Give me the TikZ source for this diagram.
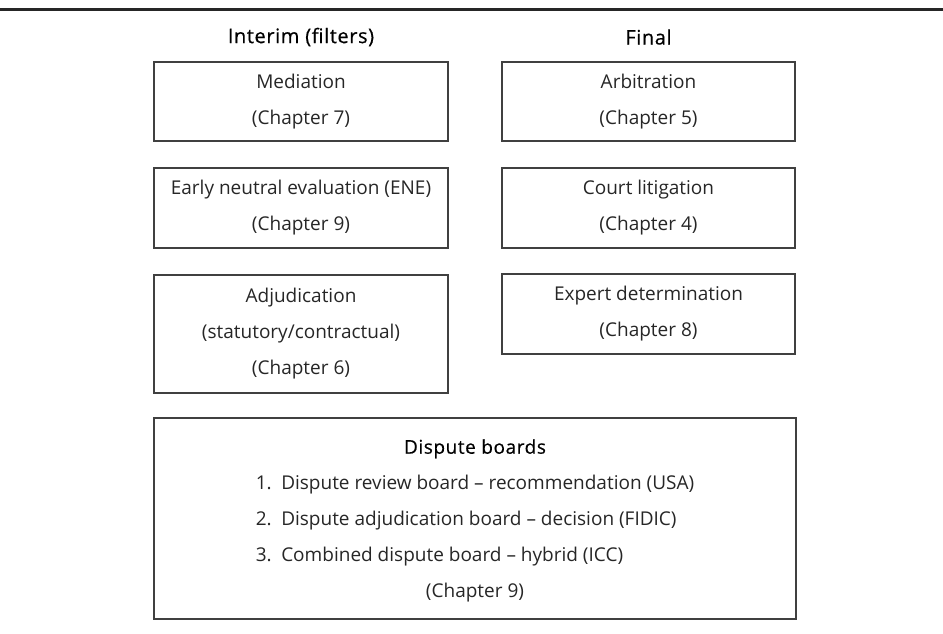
\documentclass[tikz,border=0pt]{standalone}
\usepackage{fontspec}
\setmainfont{Open Sans}
\newfontfamily\headfont[LetterSpace=3,FakeBold=0.5]{Open Sans}
\begin{document}
\begin{tikzpicture}[x=1pt,y=-1pt,
  box/.style={draw=black!75,line width=1.8pt,rectangle,inner sep=0pt,align=center,
    text=black!85,font=\fontsize{19}{36}\selectfont},
  head/.style={inner sep=0pt,text=black,font=\headfont\fontsize{20}{24}\selectfont}]
\useasboundingbox (0,0) rectangle (943,633);
\draw[line width=3pt,black!85] (0,9) -- (943,9);
\node[head] (hint) at (301,37) {Interim (filters)};
\node[head] (hfin) at (648.5,37) {Final};
\node[box,minimum width=294pt,minimum height=79pt] (med) at (301,101.5) {Mediation\\(Chapter 7)};
\node[box,minimum width=293pt,minimum height=79pt] (arb) at (648.5,101.5) {Arbitration\\(Chapter 5)};
\node[box,minimum width=294pt,minimum height=80pt] (ene) at (301,208) {Early neutral evaluation (ENE)\\(Chapter 9)};
\node[box,minimum width=293pt,minimum height=80pt] (court) at (648.5,208) {Court litigation\\(Chapter 4)};
\node[box,minimum width=294pt,minimum height=118pt] (adj) at (301,334) {Adjudication\\(statutory/contractual)\\(Chapter 6)};
\node[box,minimum width=293pt,minimum height=80pt] (exp) at (648.5,314) {Expert determination\\(Chapter 8)};
\node[box,minimum width=642pt,minimum height=201pt] (db) at (475,518.5) {%
\begin{tabular}{@{}l@{}}
\multicolumn{1}{c}{\color{black}\headfont Dispute boards}\\
1.\enspace Dispute review board -- recommendation (USA)\\
2.\enspace Dispute adjudication board -- decision (FIDIC)\\
3.\enspace Combined dispute board -- hybrid (ICC)\\
\multicolumn{1}{c}{(Chapter 9)}
\end{tabular}};
\end{tikzpicture}
\end{document}
